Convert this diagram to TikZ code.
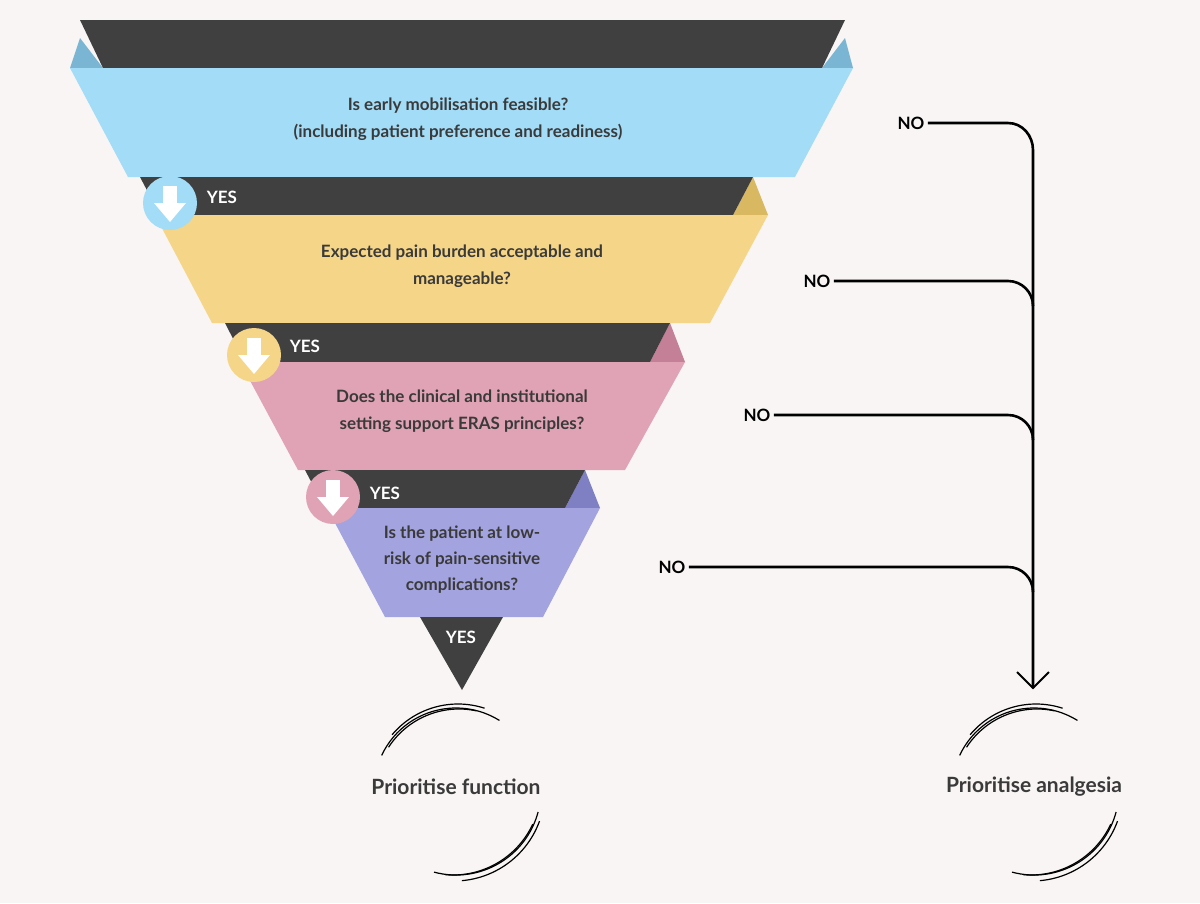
\documentclass[tikz,border=0pt]{standalone}
\usepackage{fontspec}
\setmainfont{Lato}
\begin{document}
\begin{tikzpicture}[x=1pt,y=-1pt,
  dark/.style={fill=dk,draw=none},
  q/.style={font=\bfseries\fontsize{17}{27}\selectfont,text=txt,align=center},
  yes/.style={font=\bfseries\fontsize{17}{20}\selectfont,text=white},
  no/.style={font=\bfseries\fontsize{17}{20}\selectfont,text=black},
  conn/.style={line width=2.6pt,black},
  sk/.style={line width=1.2pt,black}]
\definecolor{bg}{HTML}{F8F5F4}
\definecolor{dk}{HTML}{404040}
\definecolor{txt}{HTML}{3A3A3A}
\definecolor{bl}{HTML}{A2DCF7}\definecolor{blf}{HTML}{7BB5D4}
\definecolor{ye}{HTML}{F5D587}\definecolor{yef}{HTML}{D9B862}
\definecolor{pk}{HTML}{E0A3B5}\definecolor{pkf}{HTML}{C48096}
\definecolor{pu}{HTML}{A3A3E0}\definecolor{puf}{HTML}{7F7FC4}
\useasboundingbox (0,0) rectangle (1200,903);
\fill[bg] (0,0) rectangle (1200,903);
% layer 1
\fill[blf] (80,38) -- (70,68) -- (103,68) -- cycle;
\fill[blf] (845,38) -- (853,68) -- (822,68) -- cycle;
\fill[dark] (80,20) -- (845,20) -- (822,68) -- (103,68) -- cycle;
\fill[bl] (70,68) -- (853,68) -- (795,177) -- (128,177) -- cycle;
\node[q] (q1) at (458,119) {Is early mobilisation feasible?\\(including patient preference and readiness)};
% layer 2
\fill[yef] (753,177) -- (768,215) -- (733,215) -- cycle;
\fill[dark] (140,177) -- (753,177) -- (733,215) -- (160,215) -- cycle;
\fill[ye] (155,215) -- (768,215) -- (710,323) -- (212,323) -- cycle;
\node[q] (q2) at (462,266) {Expected pain burden acceptable and\\manageable?};
% layer 3
\fill[pkf] (670,323) -- (685,362) -- (650,362) -- cycle;
\fill[dark] (225,323) -- (670,323) -- (650,362) -- (245,362) -- cycle;
\fill[pk] (240,362) -- (685,362) -- (625,470) -- (298,470) -- cycle;
\node[q] (q3) at (462,411) {Does the clinical and institutional\\setting support ERAS principles?};
% layer 4
\fill[puf] (585,470) -- (600,508) -- (565,508) -- cycle;
\fill[dark] (305,470) -- (585,470) -- (565,508) -- (325,508) -- cycle;
\fill[pu] (327,508) -- (600,508) -- (543,617) -- (385,617) -- cycle;
\node[q,font=\bfseries\fontsize{17}{26}\selectfont] (q4) at (462,560) {Is the patient at low-\\risk of pain-sensitive\\complications?};
% final
\fill[dark] (420,617) -- (503,617) -- (462,690) -- cycle;
% circles with arrows
\foreach \cx/\cy/\c/\n in {170/203/bl/c1,254/355/ye/c2,333/497/pk/c3}{
  \fill[\c] (\cx,\cy) circle (27);
  \coordinate (\n) at (\cx,\cy);
  \fill[white] (\cx-7,\cy-17) rectangle (\cx+7,\cy);
  \fill[white] (\cx-16,\cy) -- (\cx+16,\cy) -- (\cx,\cy+19) -- cycle;
}
\node[yes] (y1) at (222,197) {YES};
\node[yes] (y2) at (305,346) {YES};
\node[yes] (y3) at (385,493) {YES};
\node[yes] (y4) at (461,637) {YES};
% NO connectors
\node[no] (n1) at (911,123) {NO};
\node[no] (n2) at (817,281) {NO};
\node[no] (n3) at (757,415) {NO};
\node[no] (n4) at (672,567) {NO};
\coordinate (top) at (1033,150);
\coordinate (tip) at (1033,688);
\draw[conn] (n1.east) -- (1008,123) to[out=0,in=90] (top) -- (tip);
\draw[conn] (n2.east) -- (1008,281) to[out=0,in=90] (1033,306);
\draw[conn] (n3.east) -- (1008,415) to[out=0,in=90] (1033,440);
\draw[conn] (n4.east) -- (1008,567) to[out=0,in=90] (1033,592);
\draw[line width=2pt] (1017,672) -- (tip) -- (1049,672);
% outcomes
\node[font=\bfseries\fontsize{21}{24}\selectfont,text=txt] (o1) at (456,787) {Prioritise function};
\node[font=\bfseries\fontsize{21}{24}\selectfont,text=txt] (o2) at (1034,787) {Prioritise analgesia};
\foreach \cx in {456,1034}{
  \draw[sk] (\cx,790) ++(205:82) arc (205:302:82);
  \draw[sk] (\cx+3,793) ++(213:84) arc (213:282:84);
  \draw[sk] (\cx+2,790) ++(220:86) arc (220:288:86);
  \draw[sk] (\cx,790) ++(15:85) arc (15:105:85);
  \draw[sk] (\cx-3,787) ++(25:88) arc (25:95:88);
  \draw[sk] (\cx-2,790) ++(20:91) arc (20:85:91);
}
\end{tikzpicture}
\end{document}
